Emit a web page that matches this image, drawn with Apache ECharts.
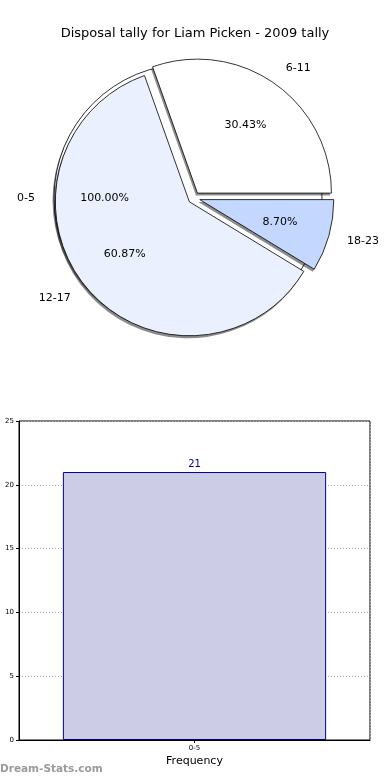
<!DOCTYPE html>
<html><head><meta charset="utf-8">
<script src="https://cdn.jsdelivr.net/npm/echarts@6/dist/echarts.min.js"></script>
<style>html,body{margin:0;padding:0;background:#fff}#c{width:390px;height:780px}</style>
</head><body><div id="c"></div>
<script>
var titleText = 'Disposal tally for Liam Picken - 2009 tally';
var baseCategory = '0-5';
var baseValue = 1;
var pieCategories = ['6-11', '12-17', '18-23'];
var pieValues = [7, 14, 2];
var pieColors = ['#ffffff', '#eaf0fd', '#c4d8ff'];
var barCategories = ['0-5'];
var barValues = [21];
var yTicks = {min: 0, max: 25, interval: 5};

var FONT = 'DejaVu Sans';
var C = [194, 198];
var SC = [192.5, 200.5];
var R = 134;
var OFF = 6;

function pieBase(center, radius, data) {
  return {
    type: 'pie', center: center, radius: radius, startAngle: 0, clockwise: false,
    selectedMode: 'multiple', selectedOffset: OFF, avoidLabelOverlap: false,
    animation: false, silent: true, data: data
  };
}
function shadowSeries(data) {
  var s = pieBase(SC, [0, R], data.map(function (d) { return {name: d.name, value: d.value, selected: true}; }));
  s.itemStyle = {color: 'rgba(0,0,0,0.45)', borderWidth: 0};
  s.label = {show: false};
  s.labelLine = {show: false};
  return s;
}
function nameLabelSeries(data) {
  var s = pieBase(C, [0, R], data);
  s.itemStyle = {borderColor: '#000', borderWidth: 0.8};
  s.label = {show: true, position: 'outside', formatter: '{b}', color: '#000', fontFamily: FONT, fontSize: 11, distanceToLabelLine: 0};
  s.labelLine = {show: false, length: 19, length2: 0};
  return s;
}
function pctSeries(data) {
  var s = pieBase(C, [0, R * 1.2], data.map(function (d) { return {name: d.name, value: d.value, selected: true}; }));
  s.z = 5;
  s.itemStyle = {color: 'rgba(0,0,0,0)', borderWidth: 0};
  s.label = {show: true, position: 'inside', color: '#000', fontFamily: FONT, fontSize: 11,
    formatter: function (p) { return p.percent.toFixed(2) + '%'; }};
  s.labelLine = {show: false};
  return s;
}

var baseData = [{name: baseCategory, value: baseValue, selected: true, itemStyle: {color: '#ffffff'}}];
var sliceData = pieCategories.map(function (n, i) {
  return {name: n, value: pieValues[i], selected: true, itemStyle: {color: pieColors[i]}};
});

var chart = echarts.init(document.getElementById('c'), null, {renderer: 'canvas'});
chart.setOption({
  animation: false,
  backgroundColor: '#fff',
  title: {text: titleText, left: 'center', top: 22, textStyle: {fontFamily: FONT, fontSize: 13, fontWeight: 'normal', color: '#000'}},
  graphic: [{type: 'text', left: 0, top: 764, style: {text: 'Dream-Stats.com', font: 'bold 10.5px "DejaVu Sans"', fill: '#9a9a9a'}}],
  grid: {left: 19, right: 20, top: 421, bottom: 40, show: true, borderColor: '#000', borderWidth: 1, containLabel: false, outerBoundsMode: 'none'},
  xAxis: {
    type: 'category', data: barCategories,
    name: 'Frequency', nameLocation: 'middle', nameGap: 16,
    nameTextStyle: {fontFamily: FONT, fontSize: 11, color: '#000'},
    axisLine: {lineStyle: {color: '#000'}},
    axisTick: {show: true, alignWithLabel: true, length: 3, lineStyle: {color: '#000'}},
    axisLabel: {fontFamily: FONT, fontSize: 7, color: '#000', margin: 5},
    splitLine: {show: true, lineStyle: {color: '#b0b0b0', type: [1, 2]}}
  },
  yAxis: {
    type: 'value', min: yTicks.min, max: yTicks.max, interval: yTicks.interval,
    name: 'Disposal Tally', nameLocation: 'middle', nameGap: 21,
    nameTextStyle: {fontFamily: FONT, fontSize: 10, color: '#000'},
    axisLine: {show: true, lineStyle: {color: '#000'}},
    axisTick: {show: true, length: 3, lineStyle: {color: '#000'}},
    axisLabel: {fontFamily: FONT, fontSize: 7, color: '#000', margin: 5},
    splitLine: {show: true, lineStyle: {color: '#b0b0b0', type: [1, 2]}}
  },
  series: [
    shadowSeries(baseData),
    nameLabelSeries(baseData),
    pctSeries(baseData),
    shadowSeries(sliceData),
    nameLabelSeries(sliceData),
    pctSeries(sliceData),
    {
      type: 'bar', data: barValues, barCategoryGap: '25%', z: 1,
      itemStyle: {color: '#ccccE6', borderColor: '#00008b', borderWidth: 1},
      label: {show: true, position: 'top', color: '#00008b', fontFamily: FONT, fontSize: 10, distance: 3}
    }
  ]
});
</script></body></html>
